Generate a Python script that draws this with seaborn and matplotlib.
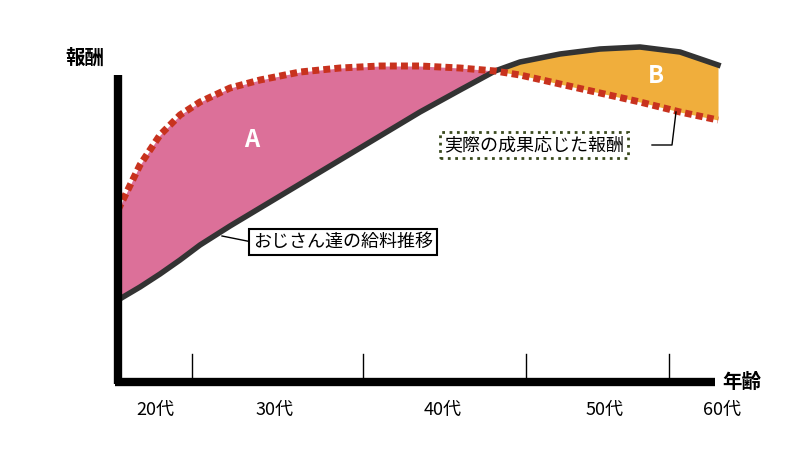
import matplotlib
matplotlib.use("Agg")
import matplotlib.pyplot as plt
import seaborn as sns
import numpy as np
import pandas as pd

plt.rcParams["font.family"] = ["Noto Sans CJK JP", "DejaVu Sans"]

# positions along the age axis (canvas units) and curve heights (canvas units from top)
age_x = [118, 140, 160, 180, 200, 230, 260, 300, 340, 380, 420, 460, 495, 520, 560, 600, 640, 680, 718]
salary = [300, 287, 274, 260, 245, 226, 208, 184, 160, 136, 112, 90, 71, 62, 54, 49, 47, 52, 65]
merit = [210, 165, 135, 115, 102, 88, 80, 72, 68, 66, 66, 68, 71, 75, 84, 93, 102, 112, 120]
tick_x = [192, 363, 526, 669]
decade_labels = ["20代", "30代", "40代", "50代", "60代"]
decade_x = [155, 275, 443, 605, 722]

df = pd.DataFrame({"x": age_x, "salary": salary, "merit": merit})
fig = plt.figure(figsize=(8, 4.5), dpi=100)
ax = fig.add_axes([0, 0, 1, 1])
ax.set_xlim(0, 800); ax.set_ylim(450, 0); ax.axis("off")

x = np.array(age_x); s = np.array(salary); m = np.array(merit)
ax.fill_between(x, s, m, where=m <= s, color="#DC7099", interpolate=True, lw=0)
ax.fill_between(x, s, m, where=m >= s, color="#F0AE3C", interpolate=True, lw=0)
sns.lineplot(data=df, x="x", y="salary", ax=ax, color="#333333", lw=4, legend=False)
sns.lineplot(data=df, x="x", y="merit", ax=ax, color="#C8321E", lw=5, ls=(0, (1, 0.6)), legend=False)
ax.set_xlabel(""); ax.set_ylabel("")

ax.plot([118, 118], [384, 75], color="black", lw=6, solid_capstyle="butt")
ax.plot([115, 715], [382, 382], color="black", lw=6, solid_capstyle="butt")
for t in tick_x:
    ax.plot([t, t], [382, 354], color="black", lw=1)
for lab, px in zip(decade_labels, decade_x):
    ax.text(px, 410, lab, ha="center", va="center", fontsize=13)
ax.text(85, 58, "報酬", ha="center", va="center", fontsize=14, fontweight="bold")
ax.text(742, 382, "年齢", ha="center", va="center", fontsize=14, fontweight="bold")
ax.text(252, 140, "A", color="white", fontsize=17, fontweight="bold", ha="center", va="center")
ax.text(656, 76, "B", color="white", fontsize=17, fontweight="bold", ha="center", va="center")

ax.plot([222, 252], [236, 242], color="black", lw=1)
ax.text(253, 242, "おじさん達の給料推移", fontsize=13, va="center", ha="left",
        bbox=dict(boxstyle="square,pad=0.2", fc="white", ec="black", lw=1.5))
ax.plot([652, 672, 676], [145, 145, 112], color="black", lw=1)
ax.text(444, 145, "実際の成果応じた報酬", fontsize=13, va="center", ha="left",
        bbox=dict(boxstyle="square,pad=0.2", fc="white", ec="#3a4a1e", lw=2, ls=":"))
fig.savefig("out.png", dpi=100)
